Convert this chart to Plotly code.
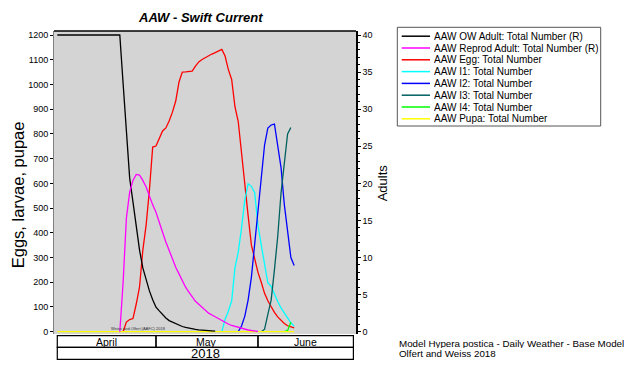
import pandas as pd
import plotly.graph_objects as go

# ---------------- data ----------------
ow_adult_start = "2018-04-01"
ow_adult = [40, 40, 40, 40, 40, 40, 40, 40, 40, 40, 40, 40, 40, 40, 40, 40, 40, 40, 40, 40,
            33.5, 27.0, 20.7, 17.5, 14.2, 11.0, 8.6, 7.0, 5.5, 4.3, 3.3, 2.8, 2.25, 1.85,
            1.5, 1.3, 1.04, 0.84, 0.7, 0.57, 0.46, 0.38, 0.31, 0.25, 0.2, 0.16, 0.13, 0.1, 0.08]

reprod_adult_start = "2018-04-20"
reprod_adult = [0, 6.6, 15.3, 18.8, 20.4, 21.2, 21.1, 20.4, 19.5, 18.2, 17.1, 16.1, 14.6, 13.4,
                12.1, 10.9, 9.8, 8.7, 7.8, 6.8, 6.0, 5.35, 4.7, 4.1, 3.7, 3.3, 2.9, 2.5, 2.25,
                2.0, 1.7, 1.45, 1.24, 1.04, 0.84, 0.7, 0.57, 0.43, 0.32, 0.23, 0.16, 0.1, 0.05]

egg_start = "2018-04-21"
egg = [0, 39, 49, 53, 112, 181, 330, 431, 573, 747, 751, 783, 812, 824, 852, 888, 933, 1010,
       1050, 1051, 1051, 1054, 1074, 1091, 1101, 1109, 1117, 1123, 1129, 1137, 1142, 1115,
       1060, 1020, 910, 850, 715, 575, 470, 350, 290, 240, 200, 155, 125, 100, 78, 60, 45,
       33, 24, 19, 15]

i1_start = "2018-05-21"
i1 = [0, 50, 84, 124, 258, 322, 419, 533, 598, 588, 562, 430, 350, 280, 198, 183, 150, 122,
      96, 76, 55, 36, 22]

i2_start = "2018-05-26"
i2 = [0, 23, 63, 128, 221, 350, 480, 621, 755, 824, 836, 840, 745, 665, 515, 400, 300, 268]

i3_start = "2018-06-02"
i3 = [0, 10, 70, 128, 250, 385, 560, 690, 800, 826]

i4_start = "2018-06-09"
i4 = [0, 5, 38]

pupa_start = "2018-04-01"
pupa = [0, 0, 0, 0, 0, 0, 0, 0, 0, 0, 0, 0, 0, 0, 0, 0, 0, 0, 0, 0, 0, 0, 0, 0, 0, 0, 0,
        0, 0, 0, 0, 0, 0, 0, 0, 0, 0, 0, 0, 0, 0, 0, 0, 0, 0, 0, 0, 0, 0, 0, 0, 0, 0, 0,
        0, 0, 0, 0, 0, 0, 0, 0, 0, 0, 0, 0, 0, 0, 0, 0, 0, 0, 0]

series_names = ["AAW OW Adult: Total Number (R)", "AAW Reprod Adult: Total Number (R)",
                "AAW Egg: Total Number", "AAW I1: Total Number", "AAW I2: Total Number",
                "AAW I3: Total Number", "AAW I4: Total Number", "AAW Pupa: Total Number"]
series_colors = ["#000000", "#FF00FF", "#FF0000", "#00FFFF", "#0000FF", "#006060",
                 "#00FF00", "#FFFF00"]

months = ["April", "May", "June"]
month_edges = ["2018-04-01", "2018-05-01", "2018-06-01", "2018-06-30"]
year_label = "2018"

left_ticks = [0, 100, 200, 300, 400, 500, 600, 700, 800, 900, 1000, 1100, 1200]
right_ticks = [0, 5, 10, 15, 20, 25, 30, 35, 40]

# ---------------- layout geometry (pixels) ----------------
W, H = 640, 377
PL, PR, PT, PB = 54, 356, 31, 334
FONT = "Arial, Liberation Sans, sans-serif"


def px_x(X):
    return (X - PL) / (PR - PL)


def px_y(Y):
    return (PB - Y) / (PB - PT)


fig = go.Figure()

data = [
    (ow_adult_start, ow_adult, "y2"),
    (reprod_adult_start, reprod_adult, "y2"),
    (egg_start, egg, "y"),
    (i1_start, i1, "y"),
    (i2_start, i2, "y"),
    (i3_start, i3, "y"),
    (i4_start, i4, "y"),
    (pupa_start, pupa, "y"),
]
for (start, vals, ax), name, col in zip(data, series_names, series_colors):
    x = pd.date_range(start, periods=len(vals), freq="D")
    fig.add_trace(go.Scatter(x=x, y=vals, yaxis=ax, name=name, mode="lines",
                             line=dict(color=col, width=1.3), showlegend=False))

shapes = []
annotations = []

# top border of plot
shapes.append(dict(type="line", xref="paper", yref="paper", x0=0, x1=1, y0=1, y1=1,
                   line=dict(color="black", width=1.5)))

# month / year boxes
row_top, row_mid, row_bot = px_y(335.7), px_y(347.3), px_y(359.3)
for i in range(len(months)):
    shapes.append(dict(type="rect", xref="x", yref="paper",
                       x0=month_edges[i], x1=month_edges[i + 1], y0=row_mid, y1=row_top,
                       line=dict(color="black", width=1.2)))
    mid = pd.Timestamp(month_edges[i]) + (pd.Timestamp(month_edges[i + 1]) - pd.Timestamp(month_edges[i])) / 2
    annotations.append(dict(x=mid, y=(row_top + row_mid) / 2, xref="x", yref="paper",
                            text=months[i], showarrow=False, xanchor="center", yanchor="middle",
                            height=11, borderpad=0, valign="middle",
                            font=dict(family=FONT, size=10.5, color="black")))
shapes.append(dict(type="rect", xref="x", yref="paper", x0=month_edges[0], x1=month_edges[-1],
                   y0=row_bot, y1=row_mid, line=dict(color="black", width=1.2)))
ymid = pd.Timestamp(month_edges[0]) + (pd.Timestamp(month_edges[-1]) - pd.Timestamp(month_edges[0])) / 2
annotations.append(dict(x=ymid, y=(row_mid + row_bot) / 2, xref="x", yref="paper",
                        text=year_label, showarrow=False, xanchor="center", yanchor="middle",
                        height=11, borderpad=0, valign="middle",
                        font=dict(family=FONT, size=13, color="black")))

# legend (drawn manually to match compact spacing)
shapes.append(dict(type="rect", xref="paper", yref="paper", x0=px_x(397.3), x1=px_x(600.7),
                   y0=px_y(126), y1=px_y(27.3), line=dict(color="#555555", width=1)))
for k, (name, col) in enumerate(zip(series_names, series_colors)):
    Y = 36.2 + k * 11.8
    shapes.append(dict(type="line", xref="paper", yref="paper", x0=px_x(401.7), x1=px_x(430),
                       y0=px_y(Y), y1=px_y(Y), line=dict(color=col, width=1.5)))
    annotations.append(dict(x=px_x(433), y=px_y(Y), xref="paper", yref="paper", text=name,
                            showarrow=False, xanchor="left", yanchor="middle",
                            height=11, borderpad=0, valign="middle",
                            font=dict(family=FONT, size=10, color="black")))

# title
annotations.append(dict(x=px_x(200), y=px_y(17.5), xref="paper", yref="paper",
                        text="<b><i>AAW - Swift Current</i></b>", showarrow=False,
                        xanchor="center", yanchor="middle",
                        font=dict(family=FONT, size=13, color="black")))
# axis titles
annotations.append(dict(x=px_x(18.3), y=px_y(195), xref="paper", yref="paper",
                        text="Eggs, larvae, pupae", textangle=-90, showarrow=False,
                        xanchor="center", yanchor="middle",
                        font=dict(family=FONT, size=16.5, color="black")))
annotations.append(dict(x=px_x(382.3), y=px_y(183), xref="paper", yref="paper",
                        text="Adults", textangle=-90, showarrow=False,
                        xanchor="center", yanchor="middle",
                        font=dict(family=FONT, size=13, color="black")))
# footer notes
annotations.append(dict(x=px_x(398), y=px_y(343.3), xref="paper", yref="paper",
                        text="Model Hypera postica - Daily Weather - Base Model", showarrow=False,
                        xanchor="left", yanchor="middle", height=10, borderpad=0,
                        font=dict(family=FONT, size=9.8, color="black")))
annotations.append(dict(x=px_x(398), y=px_y(353.3), xref="paper", yref="paper",
                        text="Olfert and Weiss 2018", showarrow=False,
                        xanchor="left", yanchor="middle", height=10, borderpad=0,
                        font=dict(family=FONT, size=9.8, color="black")))
# watermark
annotations.append(dict(x=px_x(138.5), y=px_y(328.3), xref="paper", yref="paper",
                        text="Weiss and Olfert (AAFC) 2018", showarrow=False,
                        xanchor="center", yanchor="middle",
                        font=dict(family=FONT, size=4, color="#333333")))

fig.update_layout(
    width=W, height=H,
    margin=dict(l=PL, r=W - PR, t=PT, b=H - PB, pad=0, autoexpand=False),
    paper_bgcolor="white", plot_bgcolor="#D4D4D4",
    showlegend=False,
    xaxis=dict(type="date", range=["2018-03-31", "2018-06-30 19:00"], showticklabels=False,
               showgrid=False, zeroline=False, ticks="", showline=False, automargin=False),
    yaxis=dict(range=[-9.3, 1216.2], tickvals=left_ticks, showgrid=False, zeroline=False,
               ticks="outside", ticklen=3, tickcolor="black", showline=True,
               linecolor="#808080", linewidth=1, automargin=False,
               tickfont=dict(family=FONT, size=9, color="black")),
    yaxis2=dict(range=[-0.31, 40.54], tickvals=right_ticks, overlaying="y", side="right",
                showgrid=False, zeroline=False, ticks="outside", ticklen=3, tickcolor="black",
                showline=True, linecolor="black", linewidth=1.5, automargin=False,
                minor=dict(dtick=1, ticks="outside", ticklen=2, tickcolor="black"),
                tickfont=dict(family=FONT, size=9, color="black")),
    shapes=shapes, annotations=annotations,
)

fig.write_html("out.html", config={"displayModeBar": False},
               post_script="document.body.style.margin='0';document.body.style.overflow='hidden';")
